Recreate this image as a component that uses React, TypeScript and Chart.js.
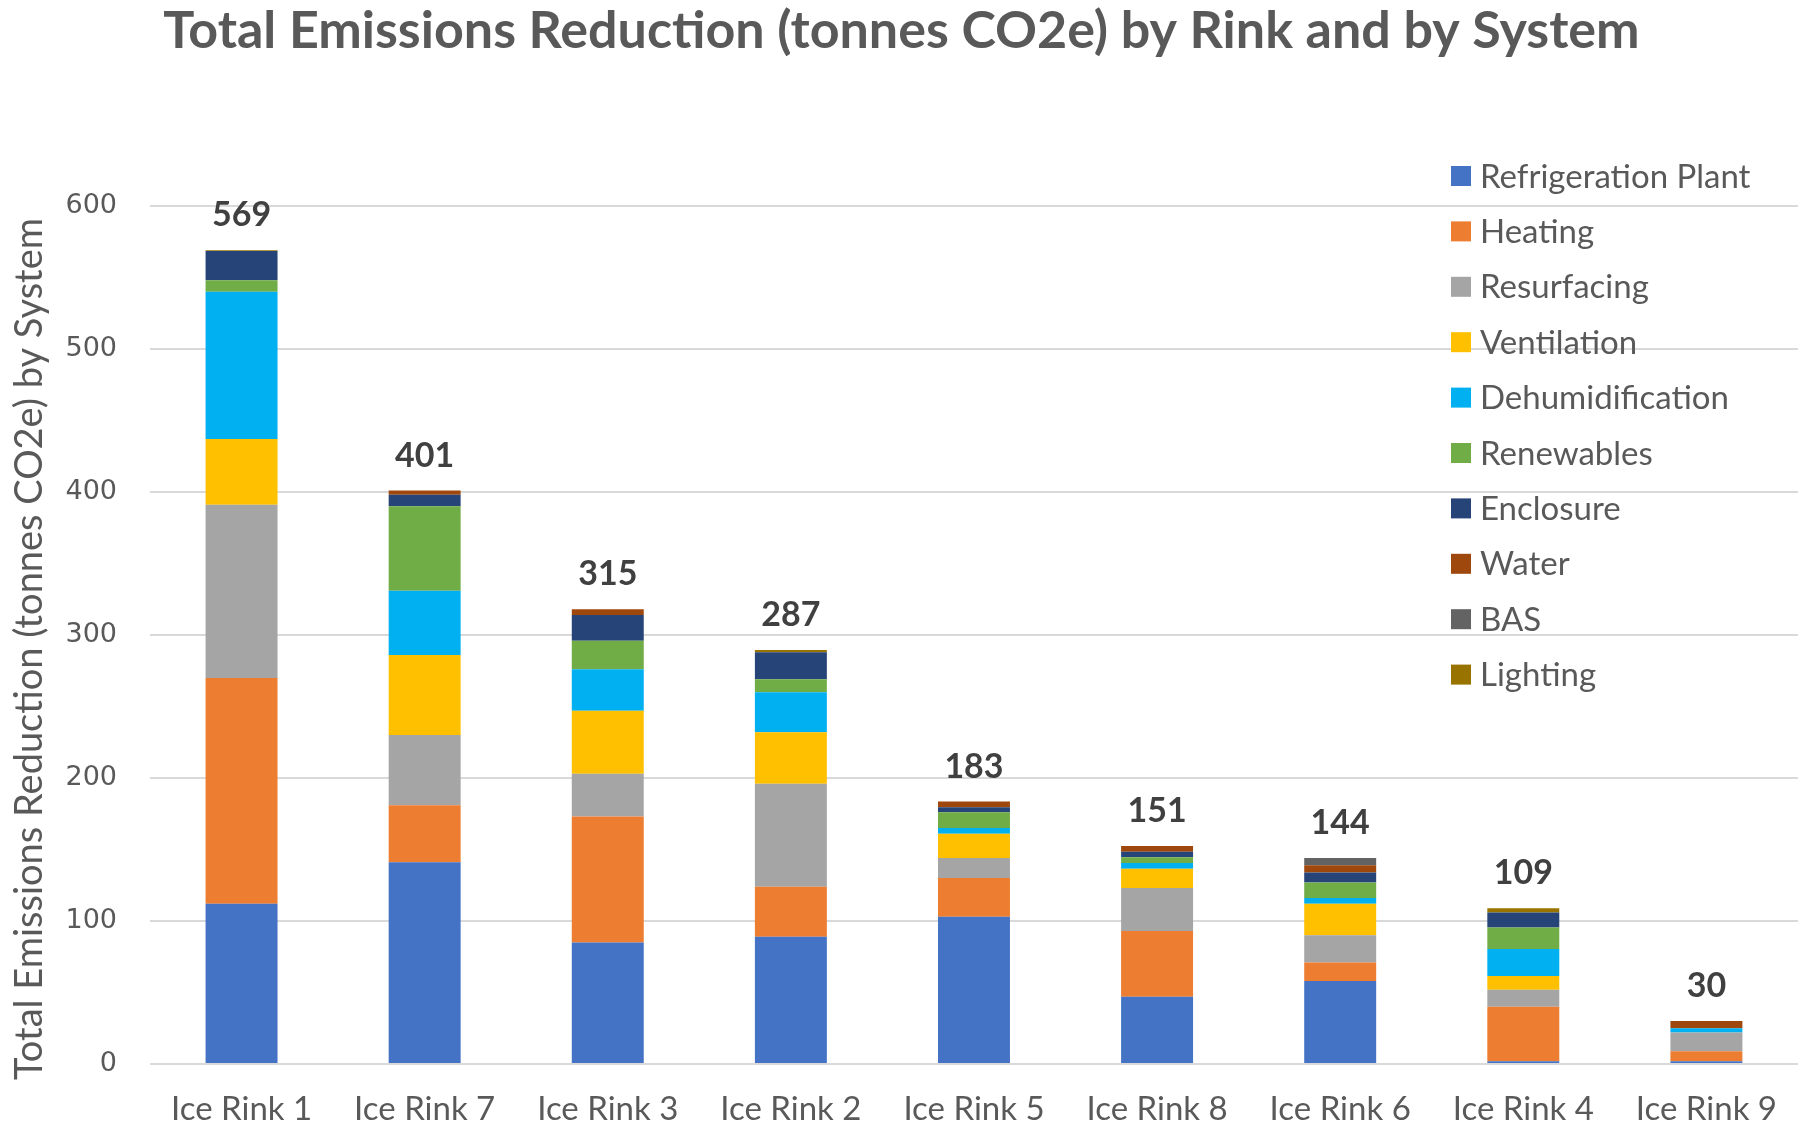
import React, { useEffect, useRef } from 'react';
import { Chart, registerables } from 'chart.js';

Chart.register(...registerables);

// ---------- data ----------
const categories = ['Ice Rink 1', 'Ice Rink 7', 'Ice Rink 3', 'Ice Rink 2', 'Ice Rink 5', 'Ice Rink 8', 'Ice Rink 6', 'Ice Rink 4', 'Ice Rink 9'];
const systemNames = ['Refrigeration Plant', 'Heating', 'Resurfacing', 'Ventilation', 'Dehumidification', 'Renewables', 'Enclosure', 'Water', 'BAS', 'Lighting'];

const refrigerationPlant = [112, 141, 85, 89, 103, 47, 58, 2, 2];
const heating = [158, 40, 88, 35, 27, 46, 13, 38, 7];
const resurfacing = [121, 49, 30, 72, 14, 30, 19, 12, 13];
const ventilation = [46, 56, 44, 36, 17, 13.5, 22, 9.5, 0];
const dehumidification = [103, 45, 29, 28, 4, 4, 4, 19, 3];
const renewables = [8, 59, 20, 9, 11, 4, 11, 15, 0];
const enclosure = [20.5, 8, 18, 19, 3.5, 4, 7, 10.5, 0];
const water = [0, 3, 4, 0, 4, 4, 5, 0, 5];
const bas = [0, 0, 0, 0, 0, 0, 5, 0, 0];
const lighting = [0.5, 0, 0, 1.5, 0, 0, 0, 3, 0];
const totals = [569, 401, 315, 287, 183, 151, 144, 109, 30];

const yTicks = [0, 100, 200, 300, 400, 500, 600];

const chartTitle = 'Total Emissions Reduction (tonnes CO2e) by Rink and by System';
const yAxisTitle = 'Total Emissions Reduction (tonnes CO2e) by System';

const seriesValues = [refrigerationPlant, heating, resurfacing, ventilation, dehumidification, renewables, enclosure, water, bas, lighting];
const seriesColors = ['#4472C4', '#ED7D31', '#A5A5A5', '#FFC000', '#00B0F0', '#70AD47', '#264478', '#9E480E', '#636363', '#997300'];

const FONT = 'Lato, "Open Sans", sans-serif';
const TICK_FONT = '"DejaVu Sans", Verdana, sans-serif';
const TEXT = '#595959';

const totalsPlugin = {
  id: 'totalsLabels',
  afterDatasetsDraw(chart: any) {
    const { ctx } = chart;
    const yScale = chart.scales.y;
    const meta = chart.getDatasetMeta(0);
    ctx.save();
    ctx.font = `bold 34px ${FONT}`;
    ctx.fillStyle = '#404040';
    ctx.textAlign = 'center';
    ctx.textBaseline = 'middle';
    categories.forEach((_, i) => {
      const sum = chart.data.datasets.reduce((s: number, d: any) => s + (d.data[i] || 0), 0);
      const x = meta.data[i].x;
      const yTop = yScale.getPixelForValue(sum);
      ctx.fillText(String(totals[i]), x, yTop - 35);
    });
    ctx.restore();
  },
};

const yTitlePlugin = {
  id: 'yTitle',
  afterDraw(chart: any) {
    const { ctx } = chart;
    ctx.save();
    ctx.font = `38px ${FONT}`;
    ctx.fillStyle = TEXT;
    ctx.textAlign = 'center';
    ctx.textBaseline = 'alphabetic';
    ctx.translate(42, 649);
    ctx.rotate(-Math.PI / 2);
    ctx.fillText(yAxisTitle, 0, 0);
    ctx.restore();
  },
};

const legendPlugin = {
  id: 'overlayLegend',
  afterDraw(chart: any) {
    const { ctx } = chart;
    ctx.save();
    ctx.font = `33px ${FONT}`;
    ctx.textAlign = 'left';
    ctx.textBaseline = 'middle';
    chart.data.datasets.forEach((d: any, i: number) => {
      const cy = 176 + i * 55.4;
      ctx.fillStyle = d.backgroundColor;
      ctx.fillRect(1451, cy - 10, 20, 20);
      ctx.fillStyle = TEXT;
      ctx.fillText(d.label, 1480, cy + 1);
    });
    ctx.restore();
  },
};

export default function App() {
  const ref = useRef<HTMLCanvasElement>(null);

  useEffect(() => {
    document.body.style.margin = '0';
    if (!ref.current) return;
    const chart = new Chart(ref.current, {
      type: 'bar',
      data: {
        labels: categories,
        datasets: systemNames.map((name, i) => ({
          label: name,
          data: seriesValues[i],
          backgroundColor: seriesColors[i],
          borderWidth: 0,
          barPercentage: 0.393,
          categoryPercentage: 1,
        })),
      },
      options: {
        responsive: false,
        animation: false,
        layout: { padding: { left: 0, right: 0, top: 0, bottom: 0 } },
        plugins: {
          legend: { display: false },
          tooltip: { enabled: false },
          title: {
            display: true,
            text: chartTitle,
            color: TEXT,
            font: { family: FONT, size: 52, weight: 'bold', lineHeight: 1.2 },
            padding: { top: 0, bottom: 143.6 },
          },
        },
        scales: {
          x: {
            stacked: true,
            grid: { display: false, drawTicks: false },
            border: { display: false },
            ticks: { color: TEXT, font: { family: FONT, size: 33, lineHeight: 1.2 }, padding: 26, maxRotation: 0 },
            afterFit: (s: any) => { s.height = 64; },
          },
          y: {
            stacked: true,
            min: 0,
            max: 600,
            afterBuildTicks: (s: any) => { s.ticks = yTicks.map((v) => ({ value: v })); },
            grid: { color: '#D9D9D9', lineWidth: 2, drawTicks: false },
            border: { display: false },
            ticks: { color: TEXT, font: { family: TICK_FONT, size: 27 }, padding: 33 },
            title: { display: false },
            afterFit: (s: any) => { s.width = 150; },
          },
        },
      },
      plugins: [totalsPlugin, yTitlePlugin, legendPlugin],
    });
    return () => chart.destroy();
  }, []);

  return <canvas ref={ref} width={1803} height={1128} style={{ display: 'block' }} />;
}
